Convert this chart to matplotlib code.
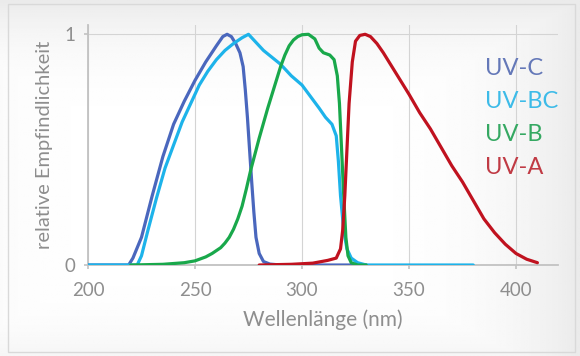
import matplotlib
matplotlib.use("Agg")
import matplotlib.pyplot as plt
import numpy as np

# wavelengths (nm) and relative sensitivity
uvc_nm = [200, 219, 221, 225, 230, 235, 240, 245, 250, 255, 260, 263, 265, 267,
          269, 271, 272.5, 273.5, 274.5, 275.5, 276.5, 277.5, 278.5, 280, 282, 285, 290, 330]
uvc_val = [0, 0, 0.03, 0.12, 0.3, 0.47, 0.61, 0.71, 0.8, 0.88, 0.95, 0.99, 1.0, 0.99,
           0.96, 0.92, 0.86, 0.76, 0.64, 0.5, 0.36, 0.23, 0.12, 0.05, 0.015, 0.004, 0, 0]

uvbc_nm = [200, 223, 225, 228, 232, 236, 240, 244, 248, 252, 256, 260, 264, 268, 272,
           275, 278, 282, 286, 290, 295, 300, 304, 308, 311, 314, 316, 317, 318,
           319.5, 321, 323, 326, 330, 380]
uvbc_val = [0, 0, 0.04, 0.15, 0.29, 0.42, 0.52, 0.62, 0.7, 0.78, 0.84, 0.89, 0.93, 0.96, 0.985,
            1.0, 0.97, 0.93, 0.9, 0.87, 0.82, 0.78, 0.73, 0.68, 0.64, 0.61, 0.56, 0.45, 0.3,
            0.15, 0.07, 0.03, 0.01, 0, 0]

uvb_nm = [220, 235, 245, 250, 255, 258, 262, 264, 266, 268, 270, 272, 274, 276, 278, 280,
          282, 284, 286, 288, 290, 292, 294, 296, 298, 300, 303, 306, 308, 310, 313, 315,
          316.5, 317.5, 318.5, 319.5, 320.5, 321.5, 323, 326, 330]
uvb_val = [0, 0.003, 0.01, 0.018, 0.035, 0.05, 0.075, 0.095, 0.12, 0.155, 0.2, 0.255, 0.33,
           0.41, 0.48, 0.55, 0.615, 0.68, 0.74, 0.8, 0.86, 0.91, 0.95, 0.975, 0.99, 0.998,
           1.0, 0.98, 0.94, 0.92, 0.91, 0.89, 0.82, 0.7, 0.5, 0.3, 0.12, 0.04, 0.01, 0, 0]

uva_nm = [280, 295, 305, 312, 316, 318, 319, 320, 321, 322, 323.5, 325, 327, 329.5, 332,
          335, 338, 342, 346, 350, 355, 360, 365, 370, 375, 380, 385, 390, 395, 400, 405, 410]
uva_val = [0, 0.003, 0.008, 0.02, 0.03, 0.07, 0.15, 0.3, 0.5, 0.7, 0.88, 0.97, 0.995, 1.0, 0.99,
           0.96, 0.92, 0.86, 0.8, 0.74, 0.66, 0.59, 0.51, 0.43, 0.36, 0.28, 0.2, 0.14, 0.09,
           0.05, 0.025, 0.01]

labels = ["UV-C", "UV-BC", "UV-B", "UV-A"]
colors = ["#4a67bd", "#1db3ea", "#19a84b", "#c0121f"]
text_colors = ["#6478b8", "#3dbbe8", "#35a862", "#c03a44"]

plt.rcParams['font.family'] = ['Lato', 'DejaVu Sans']
grey = "#8e8e8e"

fig = plt.figure(figsize=(5.8, 3.56), dpi=100)

# soft grey panel behind the chart
bg = fig.add_axes([0, 0, 1, 1], zorder=-1)
yy, xx = np.mgrid[0:1:200j, 0:1:300j]
glow = np.clip(np.maximum(np.abs(xx - 0.4) / 0.6, np.abs(yy - 0.45) / 0.55), 0, 1) ** 4
bg.imshow(1 - 0.08 * glow, cmap="gray", vmin=0, vmax=1, extent=[0, 1, 0, 1],
          aspect="auto", origin="lower")
bg.add_patch(plt.Rectangle((0.014, 0.01), 0.978, 0.978, fill=False,
                           edgecolor="#d9d9d9", lw=1))
bg.set_xlim(0, 1)
bg.set_ylim(0, 1)
bg.axis("off")

ax = fig.add_axes([0.1517, 0.2556, 0.8103, 0.674])
ax.patch.set_alpha(0)

series = [(uvc_nm, uvc_val), (uvbc_nm, uvbc_val), (uvb_nm, uvb_val), (uva_nm, uva_val)]
for i, (nm, val) in enumerate(series):
    ax.plot(nm, val, color=colors[i], lw=2.3, solid_capstyle="round",
            solid_joinstyle="round", zorder=3 + i)

ax.set_xlim(200, 419.6)
ax.set_ylim(0, 1.04)
ax.set_xticks([200, 250, 300, 350, 400])
ax.set_yticks([0, 1])
ax.grid(True, color="#d4d4d4", lw=0.8)
ax.set_axisbelow(True)
for s in ["top", "right"]:
    ax.spines[s].set_visible(False)
for s in ["left", "bottom"]:
    ax.spines[s].set_color("#c2c2c2")
    ax.spines[s].set_linewidth(1.3)
ax.tick_params(colors="#c2c2c2", labelcolor=grey, labelsize=13.5, length=3, width=1.2)
ax.tick_params(axis="x", pad=9)
ax.tick_params(axis="y", pad=6)
ax.set_xlabel("Wellenlänge (nm)", color=grey, fontsize=15, labelpad=8)
ax.set_ylabel("relative Empfindlichkeit", color=grey, fontsize=14.5, labelpad=8)

for i, lab in enumerate(labels):
    fig.text(0.836, 0.808 - i * 0.093, lab, color=text_colors[i], fontsize=17,
             va="center", ha="left")

fig.savefig("out.png", dpi=100)
